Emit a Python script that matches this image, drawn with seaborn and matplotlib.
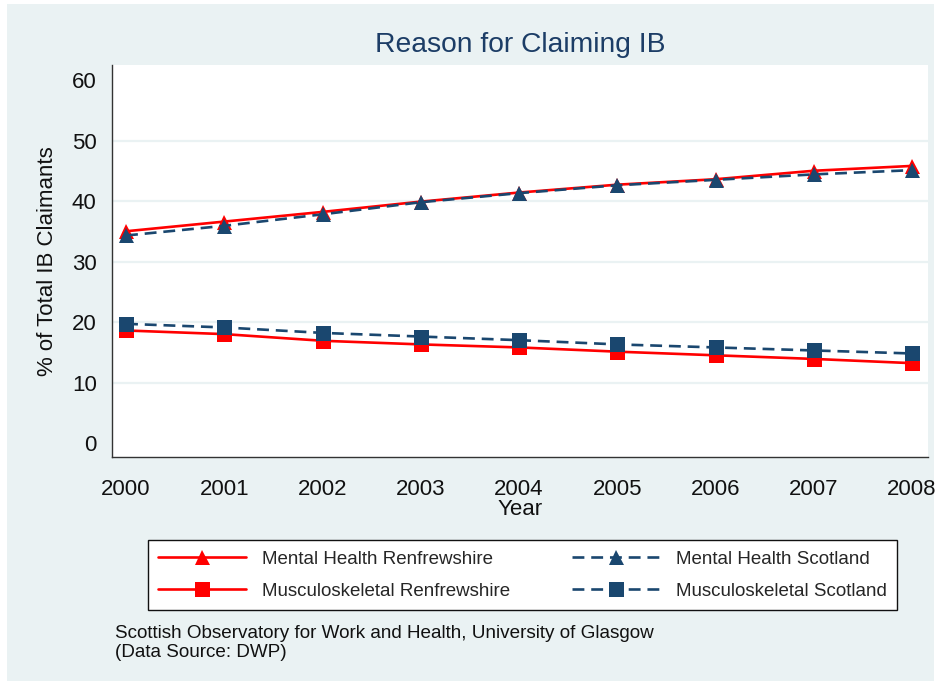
import numpy as np
import pandas as pd
import seaborn as sns
import matplotlib
matplotlib.use("Agg")
import matplotlib.pyplot as plt
from matplotlib.patches import Rectangle

# ---- data ----
years = [2000, 2001, 2002, 2003, 2004, 2005, 2006, 2007, 2008]
mh_renfrewshire = [35.0, 36.6, 38.2, 39.9, 41.4, 42.7, 43.6, 45.0, 45.8]
mh_scotland = [34.3, 35.9, 37.8, 39.8, 41.3, 42.6, 43.5, 44.4, 45.1]
ms_renfrewshire = [18.6, 18.0, 16.9, 16.3, 15.8, 15.1, 14.5, 13.9, 13.2]
ms_scotland = [19.7, 19.1, 18.2, 17.6, 17.0, 16.3, 15.8, 15.3, 14.8]
series_names = ["Mental Health Renfrewshire", "Mental Health Scotland",
                "Musculoskeletal Renfrewshire", "Musculoskeletal Scotland"]
y_ticks = [0, 10, 20, 30, 40, 50, 60]

title = "Reason for Claiming IB"
ylabel = "% of Total IB Claimants"
xlabel = "Year"
footer = "Scottish Observatory for Work and Health, University of Glasgow\n(Data Source: DWP)"

df = pd.DataFrame({
    "Year": years * 4,
    "Value": mh_renfrewshire + mh_scotland + ms_renfrewshire + ms_scotland,
    "Series": [s for s in series_names for _ in years],
})

sns.set_style("white")
plt.rcParams["font.family"] = ["Liberation Sans", "DejaVu Sans"]

RED = "#FF0000"
NAVY = "#1A476F"
BG = "#EAF2F3"
styles = {
    "Mental Health Renfrewshire": dict(color=RED, marker="^", ls="-"),
    "Mental Health Scotland": dict(color=NAVY, marker="^", ls=(0, (4.5, 2.6))),
    "Musculoskeletal Renfrewshire": dict(color=RED, marker="s", ls="-"),
    "Musculoskeletal Scotland": dict(color=NAVY, marker="s", ls=(0, (4.5, 2.6))),
}

W, H = 939, 685
fig = plt.figure(figsize=(W / 100, H / 100), dpi=100, facecolor="white")
fig.patches.append(Rectangle((7 / W, 1 - 681 / H), (934 - 7) / W, (681 - 4) / H,
                             transform=fig.transFigure, facecolor=BG,
                             edgecolor="none", zorder=-10))

L, R, T, B = 112, 928, 65, 457
ax = fig.add_axes([L / W, 1 - B / H, (R - L) / W, (B - T) / H])
ax.set_facecolor("white")

handles = {}
for i, name in enumerate(series_names):
    st = styles[name]
    sub = df[df["Series"] == name]
    sns.lineplot(data=sub, x="Year", y="Value", ax=ax, color=st["color"],
                 marker=st["marker"], markersize=10.8, markeredgewidth=0,
                 linewidth=1.9, linestyle=st["ls"], zorder=3 + i, legend=False)
    handles[name] = ax.get_lines()[-1]

ax.set_xlim(1999.857, 2008.163)
ax.set_ylim(-2.31, 62.48)
ax.set_xticks(years)
ax.set_xticklabels([str(y) for y in years])
ax.set_yticks(y_ticks)
for v in y_ticks[1:-1]:
    ax.axhline(v, color=BG, lw=1.6, zorder=1)

for side in ["top", "right"]:
    ax.spines[side].set_visible(False)
for side in ["left", "bottom"]:
    ax.spines[side].set_color("#333333")
    ax.spines[side].set_linewidth(1.0)
ax.tick_params(axis="y", direction="out", length=7, width=1, color="#333333",
               labelsize=16, labelcolor="#111111", pad=4)
ax.tick_params(axis="x", direction="out", length=7, width=1, color="#333333",
               labelsize=16, labelcolor="#111111", pad=9)
ax.set_xlabel(xlabel, fontsize=16, color="#111111", labelpad=-1)
ax.set_ylabel(ylabel, fontsize=16, color="#111111", labelpad=10)

fig.text((L + R) / 2 / W, 1 - 45 / H, title, ha="center", va="center",
         fontsize=20.3, color="#1C3D66")

order = ["Mental Health Renfrewshire", "Musculoskeletal Renfrewshire",
         "Mental Health Scotland", "Musculoskeletal Scotland"]
leg = fig.legend([handles[n] for n in order], order, ncol=2,
                 loc="lower left", mode="expand",
                 bbox_to_anchor=(148 / W, 1 - 610 / H, (897 - 148) / W, (610 - 535) / H),
                 borderaxespad=0, frameon=True, fancybox=False, framealpha=1.0,
                 fontsize=13.5,
                 handlelength=4.7, handletextpad=0.85, labelspacing=0.8,
                 borderpad=0.55, columnspacing=2.0)
leg.get_frame().set_edgecolor("#111111")
leg.get_frame().set_linewidth(1.0)
leg.get_frame().set_facecolor("white")

fig.text(115 / W, 1 - 643 / H, footer, ha="left", va="center", fontsize=13.6,
         color="#111111", linespacing=1.08)

fig.savefig("out.png", dpi=100, facecolor=fig.get_facecolor())
